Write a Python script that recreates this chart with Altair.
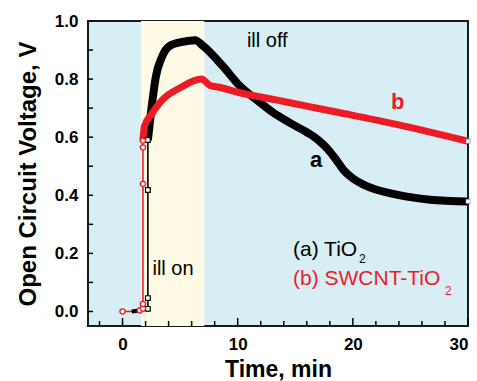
import altair as alt
import pandas as pd

# Thick traces: open-circuit voltage (V) vs time (min)
t_a = [2.2, 2.5, 2.9, 3.4, 4.1, 5.2, 6.3, 7.0, 8.7, 10.2, 11.6, 13.1, 14.5, 16.0,
       17.0, 17.8, 18.5, 19.2, 20.0, 20.9, 23.8, 26.7, 30.0]
v_a = [0.59, 0.695, 0.81, 0.874, 0.914, 0.928, 0.934, 0.914, 0.845, 0.776, 0.73,
       0.684, 0.65, 0.617, 0.59, 0.56, 0.525, 0.487, 0.458, 0.437, 0.402, 0.385,
       0.379]

t_b = [1.77, 1.9, 2.5, 3.5, 5.0, 6.85, 7.6, 8.4, 10.2, 13.1, 16.0, 18.9, 23.8, 30.0]
v_b = [0.59, 0.638, 0.678, 0.73, 0.77, 0.80, 0.778, 0.772, 0.753, 0.73, 0.707,
       0.684, 0.644, 0.586]

# Early samples around switching the light on (thin lines with markers)
t_a_on = [0.8, 1.6, 2.2, 2.2, 2.2, 2.2]
v_a_on = [0.0, 0.004, 0.009, 0.046, 0.418, 0.59]
t_b_on = [0.0, 1.3, 1.5, 1.77, 1.77, 1.77, 1.77, 1.77]
v_b_on = [0.0, 0.0, 0.004, 0.01, 0.026, 0.439, 0.565, 0.588]

# Illumination interval
ill_start, ill_end = 1.6, 7.1

x_major = [0, 10, 20, 30]
x_minor = [-2, 2, 4, 6, 8, 12, 14, 16, 18, 22, 24, 26, 28]
y_ticks = [round(0.1 * i, 1) for i in range(11)]

X_DOMAIN = [-3, 30]
Y_DOMAIN = [-0.05, 1.0]
W, H = 380, 305
FONT = "Liberation Sans"
RED = "#ED1C24"
BLACK = "#000000"

xs = alt.Scale(domain=X_DOMAIN, nice=False, zero=False)
ys = alt.Scale(domain=Y_DOMAIN, nice=False, zero=False)


def X(field="t:Q"):
    return alt.X(field, scale=xs, axis=None)


def Y(field="v:Q"):
    return alt.Y(field, scale=ys, axis=None)


def frame(ts, vs, name):
    return pd.DataFrame({"t": ts, "v": vs, "s": name, "i": range(len(ts))})


thick = pd.concat([frame(t_a, v_a, "a"), frame(t_b, v_b, "b")])
thin_a = frame(t_a_on, v_a_on, "a")
thin_b = frame(t_b_on, v_b_on, "b")
ends = pd.DataFrame({"t": [t_a[-1], t_b[-1]], "v": [v_a[-1], v_b[-1]]})

band_df = pd.DataFrame({"x1": [ill_start], "x2": [ill_end],
                        "y1": [Y_DOMAIN[0]], "y2": [Y_DOMAIN[1]]})

# Axes: labels and titles only; the inward-pointing ticks are drawn as rules
x_axis = alt.Axis(
    orient="bottom", values=x_major, ticks=False, domain=False, grid=False,
    title="Time, min", labelFontSize=17, labelFontWeight="bold",
    labelFont=FONT, labelPadding=10, titleFont=FONT, titleFontSize=23,
    titleFontWeight="bold", titlePadding=6, labelColor=BLACK, titleColor=BLACK)

y_axis = alt.Axis(
    orient="left", values=[v for v in y_ticks if round(v * 10) % 2 == 0],
    ticks=False, domain=False, grid=False, format=".1f",
    title="Open Circuit Voltage, V", labelFontSize=17, labelFontWeight="bold",
    labelFont=FONT, labelPadding=10, titleFont=FONT, titleFontSize=24,
    titleFontWeight="bold", titlePadding=14, labelColor=BLACK, titleColor=BLACK)

band = alt.Chart(band_df).mark_rect(color="#FEFAE6").encode(
    x=alt.X("x1:Q", scale=xs, axis=x_axis), x2="x2:Q",
    y=alt.Y("y1:Q", scale=ys, axis=y_axis), y2="y2:Q")

major_x = alt.Chart(pd.DataFrame({"t": x_major})).mark_rule(
    color=BLACK, strokeWidth=1.5
).encode(x=X(), y=alt.value(H), y2=alt.value(H - 8))

minor_x = alt.Chart(pd.DataFrame({"t": x_minor})).mark_rule(
    color=BLACK, strokeWidth=1.5
).encode(x=X(), y=alt.value(H), y2=alt.value(H - 5))

ticks_y = alt.Chart(pd.DataFrame({"v": y_ticks})).mark_rule(
    color=BLACK, strokeWidth=1.5
).encode(y=Y(), x=alt.value(0), x2=alt.value(5))

color_scale = alt.Scale(domain=["a", "b"], range=[BLACK, RED])

thin_line_a = alt.Chart(thin_a).mark_line(strokeWidth=1.6, color=BLACK).encode(
    x=X(), y=Y(), order="i:Q")
thin_line_b = alt.Chart(thin_b).mark_line(strokeWidth=1.6, color=RED).encode(
    x=X(), y=Y(), order="i:Q")

# short heavier black stub near zero before the light is switched on
stub_a = alt.Chart(thin_a[thin_a.i <= 1]).mark_line(
    strokeWidth=4, color=BLACK).encode(x=X(), y=Y(), order="i:Q")

thick_a = alt.Chart(thick[thick.s == "a"]).mark_line(
    strokeWidth=8, color=BLACK, interpolate="monotone", strokeJoin="round"
).encode(x=X(), y=Y(), order="i:Q")

thick_b = alt.Chart(thick[thick.s == "b"]).mark_line(
    strokeWidth=7, color=RED, interpolate="monotone", strokeJoin="round"
).encode(x=X(), y=Y(), order="i:Q")

squares = alt.Chart(thin_a[thin_a.t >= 2.2]).mark_point(
    shape="square", size=22, filled=True, fill="white", stroke=BLACK,
    strokeWidth=1.2, opacity=1
).encode(x=X(), y=Y())

circles = alt.Chart(thin_b[thin_b.t != 1.3]).mark_point(
    shape="circle", size=28, filled=True, fill="white", stroke=RED,
    strokeWidth=1.4, opacity=1
).encode(x=X(), y=Y())

end_marks = alt.Chart(ends).mark_point(
    shape="square", size=18, filled=True, fill="white", stroke="#666666",
    strokeWidth=0.5, opacity=1
).encode(x=X(), y=Y())

# Annotations
notes = pd.DataFrame({
    "t": [2.6, 10.8], "v": [0.145, 0.93], "txt": ["ill on", "ill off"]})
note_text = alt.Chart(notes).mark_text(
    align="left", baseline="middle", font=FONT, fontSize=20, color=BLACK
).encode(x=X(), y=Y(), text="txt:N")

curve_labels = pd.DataFrame({
    "t": [16.8, 23.9], "v": [0.52, 0.722], "txt": ["a", "b"], "s": ["a", "b"]})
curve_text = alt.Chart(curve_labels).mark_text(
    align="center", baseline="middle", font=FONT, fontSize=22, fontWeight="bold"
).encode(x=X(), y=Y(), text="txt:N",
         color=alt.Color("s:N", scale=color_scale, legend=None))

legend_rows = pd.DataFrame({
    "t": [14.8, 14.8], "v": [0.19, 0.092],
    "txt": ["(a) TiO", "(b) SWCNT-TiO"], "s": ["a", "b"]})
legend_text = alt.Chart(legend_rows).mark_text(
    align="left", baseline="alphabetic", font=FONT, fontSize=21
).encode(x=X(), y=Y(), text="txt:N",
         color=alt.Color("s:N", scale=color_scale, legend=None))

sub_a = alt.Chart(legend_rows[legend_rows.s == "a"]).mark_text(
    align="left", baseline="alphabetic", font=FONT, fontSize=12, dx=66, dy=7,
    color=BLACK
).encode(x=X(), y=Y(), text=alt.value("2"))

sub_b = alt.Chart(legend_rows[legend_rows.s == "b"]).mark_text(
    align="left", baseline="alphabetic", font=FONT, fontSize=12, dx=152, dy=10,
    color=RED
).encode(x=X(), y=Y(), text=alt.value("2"))

chart = alt.layer(
    band, major_x, minor_x, ticks_y, thin_line_a, thin_line_b, stub_a,
    thick_a, thick_b, squares, circles, end_marks, note_text, curve_text,
    legend_text, sub_a, sub_b
).resolve_axis(x="independent", y="independent").properties(
    width=W, height=H,
    autosize=alt.AutoSizeParams(type="none"),
    padding={"left": 88, "top": 21, "right": 9, "bottom": 55},
    background="white",
).configure_view(
    fill="#D8EEF5", stroke="#1A1A1A", strokeWidth=2
)

chart.save("out.html", embed_options={"renderer": "svg", "actions": False})
